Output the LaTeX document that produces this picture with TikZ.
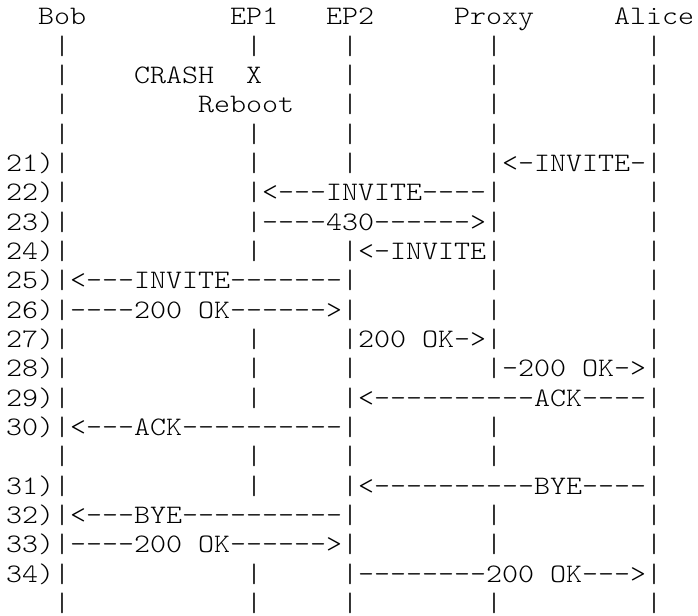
\documentclass[tikz,border=0pt]{standalone}
\usepackage{fontspec}
\setmonofont[FakeStretch=1.1428]{Latin Modern Mono Light}
\usepackage{tikz}

\tikzset{
	rfcline/.style={anchor=base west, inner sep=0pt,
		font=\ttfamily\frenchspacing\fontsize{7.587pt}{9pt}\selectfont}
}

\begin{document}
\begin{tikzpicture}
	\useasboundingbox (0,0) rectangle (6.98,6.16);
	% header and lifelines before the calls
	\draw
		(0.055,5.910) node[rfcline] (names)  {~~Bob~~~~~~~~~EP1~~~EP2~~~~~Proxy~~~~~Alice}
		(0.055,5.617) node[rfcline] (life1)  {~~~|~~~~~~~~~~~|~~~~~|~~~~~~~~|~~~~~~~~~|}
		(0.055,5.323) node[rfcline] (crash)  {~~~|~~~~CRASH~~X~~~~~|~~~~~~~~|~~~~~~~~~|}
		(0.055,5.030) node[rfcline] (reboot) {~~~|~~~~~~~~Reboot~~~|~~~~~~~~|~~~~~~~~~|}
		(0.055,4.737) node[rfcline] (life2)  {~~~|~~~~~~~~~~~|~~~~~|~~~~~~~~|~~~~~~~~~|};
	% messages 21 to 30
	\draw
		(0.055,4.443) node[rfcline] (m21) {21)|~~~~~~~~~~~|~~~~~|~~~~~~~~|<-INVITE-|}
		(0.055,4.150) node[rfcline] (m22) {22)|~~~~~~~~~~~|<---INVITE----|~~~~~~~~~|}
		(0.055,3.857) node[rfcline] (m23) {23)|~~~~~~~~~~~|----430------>|~~~~~~~~~|}
		(0.055,3.563) node[rfcline] (m24) {24)|~~~~~~~~~~~|~~~~~|<-INVITE|~~~~~~~~~|}
		(0.055,3.270) node[rfcline] (m25) {25)|<---INVITE-------|~~~~~~~~|~~~~~~~~~|}
		(0.055,2.977) node[rfcline] (m26) {26)|----200~OK------>|~~~~~~~~|~~~~~~~~~|}
		(0.055,2.683) node[rfcline] (m27) {27)|~~~~~~~~~~~|~~~~~|200~OK->|~~~~~~~~~|}
		(0.055,2.390) node[rfcline] (m28) {28)|~~~~~~~~~~~|~~~~~|~~~~~~~~|-200~OK->|}
		(0.055,2.097) node[rfcline] (m29) {29)|~~~~~~~~~~~|~~~~~|<----------ACK----|}
		(0.055,1.803) node[rfcline] (m30) {30)|<---ACK----------|~~~~~~~~|~~~~~~~~~|};
	% teardown 31 to 34
	\draw
		(0.055,1.510) node[rfcline] (life3) {~~~|~~~~~~~~~~~|~~~~~|~~~~~~~~|~~~~~~~~~|}
		(0.055,1.217) node[rfcline] (m31) {31)|~~~~~~~~~~~|~~~~~|<----------BYE----|}
		(0.055,0.923) node[rfcline] (m32) {32)|<---BYE----------|~~~~~~~~|~~~~~~~~~|}
		(0.055,0.630) node[rfcline] (m33) {33)|----200~OK------>|~~~~~~~~|~~~~~~~~~|}
		(0.055,0.337) node[rfcline] (m34) {34)|~~~~~~~~~~~|~~~~~|--------200~OK--->|}
		(0.055,0.043) node[rfcline] (life4) {~~~|~~~~~~~~~~~|~~~~~|~~~~~~~~|~~~~~~~~~|};
\end{tikzpicture}
\end{document}
